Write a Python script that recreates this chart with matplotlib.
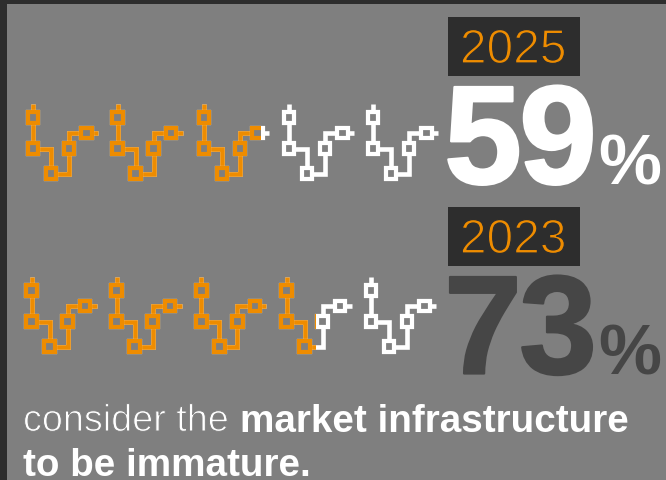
import matplotlib
matplotlib.use("Agg")
import matplotlib.pyplot as plt
from matplotlib.patches import Rectangle
from matplotlib.patheffects import Stroke

# Survey results shown as five-icon pictograms
years = ["2025", "2023"]
shares = [59, 73]
icon_count = 5
caption_light = "consider the"
caption_bold_1 = "market infrastructure"
caption_bold_2 = "to be immature."

ORANGE = "#EE8C00"
WHITE = "#FFFFFF"
GREY = "#7F7F7F"
DARK = "#2D2D2D"
NUM_DARK = "#464646"
FONT = "Liberation Sans"

W, H = 666, 481
fig = plt.figure(figsize=(W / 100, H / 100), dpi=100, facecolor=GREY)
ax = fig.add_axes([0, 0, 1, 1])
ax.set_xlim(0, W)
ax.set_ylim(H, 0)
ax.axis("off")

# Window frame along the left and top edges
ax.add_patch(Rectangle((0, 0), 7, H, fc=DARK, ec="none"))
ax.add_patch(Rectangle((0, 0), W, 4.5, fc=DARK, ec="none"))

# Icon geometry relative to the centre of its top node
NODES = [(0, 0), (0, 31), (18, 56), (36, 31), (53.5, 15.5)]
LINK = [(0, -13.5), (0, 31), (18, 31), (18, 56), (36, 56), (36, 15.5), (65, 15.5)]
NODE_SIZE = 10.5
NODE_EDGE = 4.2
LINK_WIDTH = 4.6
PX = 0.72  # points per pixel at this resolution


def draw_icon(cx, cy, color, clip=None):
    artists = ax.plot([cx + p[0] for p in LINK], [cy + p[1] for p in LINK], color=color,
                      lw=LINK_WIDTH * PX, solid_capstyle="butt",
                      solid_joinstyle="miter", zorder=3)
    for nx, ny in NODES:
        r = Rectangle((cx + nx - NODE_SIZE / 2, cy + ny - NODE_SIZE / 2),
                      NODE_SIZE, NODE_SIZE, fc=GREY, ec=color,
                      lw=NODE_EDGE * PX, joinstyle="miter", zorder=4)
        ax.add_patch(r)
        artists.append(r)
    if clip is not None:
        for a in artists:
            a.set_clip_path(clip)


ICON_X = [[33, 117.7, 204, 289, 373], [31.5, 116.5, 201.3, 286.7, 371]]
ICON_Y = [118.5, 291.5]
SCALE_LEFT, SCALE_SPAN = 29, 393  # pixels covered by 0-100 %

BOX_TOP = [18, 208]
NUM_COLOR = [WHITE, NUM_DARK]
NUM_BASE = [184.5, 374.5]

for row, (year, share) in enumerate(zip(years, shares)):
    boundary = SCALE_LEFT + SCALE_SPAN * share / 100
    mask = Rectangle((0, 0), boundary, H, transform=ax.transData)
    for i in range(icon_count):
        draw_icon(ICON_X[row][i], ICON_Y[row], WHITE)
        draw_icon(ICON_X[row][i], ICON_Y[row], ORANGE, clip=mask)

    # Year badge, thinned to a light weight with a stroke in the badge colour
    ax.add_patch(Rectangle((448, BOX_TOP[row]), 132, 59, fc=DARK, ec="none", zorder=2))
    ax.text(513, BOX_TOP[row] + 46, year, color=ORANGE, fontsize=34.5, ha="center",
            va="baseline", family=FONT, zorder=5,
            path_effects=[Stroke(linewidth=0.9, foreground=DARK)])

    # Large percentage, with the digits set tightly and slightly heavier
    digits = str(share)
    c = NUM_COLOR[row]
    heavy = [Stroke(linewidth=1.6, foreground=c)]
    ax.text(444, NUM_BASE[row], digits[0], color=c, fontsize=101, family=FONT,
            weight="bold", ha="left", va="baseline", zorder=6, path_effects=heavy)
    ax.text(519, NUM_BASE[row], digits[1], color=c, fontsize=101, family=FONT,
            weight="bold", ha="left", va="baseline", zorder=6, path_effects=heavy)
    ax.text(598, NUM_BASE[row], "%", color=c, fontsize=51, family=FONT,
            weight="bold", ha="left", va="baseline", zorder=6)

# Caption
ax.text(23, 432, caption_light, color=WHITE, fontsize=27.2, family=FONT,
        ha="left", va="baseline", path_effects=[Stroke(linewidth=0.7, foreground=GREY)])
ax.text(240, 432, caption_bold_1, color=WHITE, fontsize=27.8, family=FONT, weight="bold",
        ha="left", va="baseline")
ax.text(23, 476, caption_bold_2, color=WHITE, fontsize=27.8, family=FONT, weight="bold",
        ha="left", va="baseline")

fig.savefig("out.png", dpi=100, facecolor=GREY)
